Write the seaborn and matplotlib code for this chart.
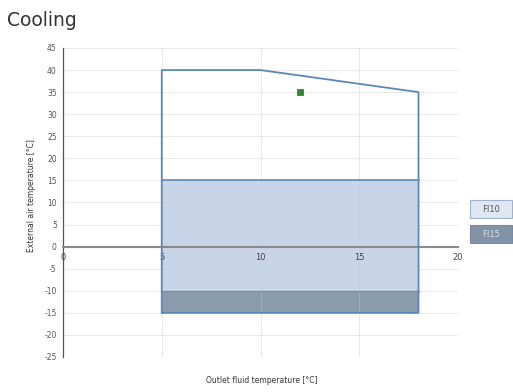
import matplotlib
matplotlib.use("Agg")
import matplotlib.pyplot as plt
import seaborn as sns
import pandas as pd
from matplotlib.patches import Rectangle

sns.set_style("white")
plt.rcParams['font.family'] = ['DejaVu Sans']
plt.rcParams['axes.unicode_minus'] = False

# Operating envelope outline (outlet fluid temp, external air temp)
outline_x = [5, 5, 10, 18, 18, 5]
outline_y = [-15, 40, 40, 35, -15, -15]

# Model regions
fi10_x = [5, 18]
fi10_low, fi10_high = -15, 15
fi15_x = [5, 18]
fi15_low, fi15_high = -15, -10

# Current operating point
point_x = [12]
point_y = [35]

legend_labels = ["FI10", "FI15"]
x_ticks = [0, 5, 10, 15, 20]
y_ticks = list(range(-25, 50, 5))

fig = plt.figure(figsize=(5.13, 3.92), dpi=100)
ax = fig.add_axes([0.1228, 0.0893, 0.770, 0.7883])

light_fill = "#c8d5e9"
dark_fill = "#8b9bae"
edge = "#5a88b8"

ax.fill_between(fi10_x, fi10_low, fi10_high, color=light_fill, zorder=1, linewidth=0)
ax.fill_between(fi15_x, fi15_low, fi15_high, color=dark_fill, zorder=1.2, linewidth=0)
ax.plot([fi10_x[0], fi10_x[1]], [fi10_high, fi10_high], color=edge, lw=1.2, zorder=3)
ax.plot([fi15_x[0], fi15_x[1]], [fi15_high, fi15_high], color="#7d8ea2", lw=1.0, zorder=3)

env = pd.DataFrame({"x": outline_x, "y": outline_y, "i": range(len(outline_x))})
sns.lineplot(data=env, x="x", y="y", sort=False, color=edge, lw=1.3, ax=ax, zorder=4,
             estimator=None)

pts = pd.DataFrame({"x": point_x, "y": point_y})
sns.scatterplot(data=pts, x="x", y="y", marker="s", s=22, color="#2e8b2e",
                edgecolor="#2a6e2a", linewidth=0.5, ax=ax, zorder=5)

for s in ["top", "right"]:
    ax.spines[s].set_visible(False)
ax.spines["left"].set_color("#555555")
ax.spines["left"].set_linewidth(0.9)
ax.spines["bottom"].set_position(("data", 0))
ax.spines["bottom"].set_color("#8a8a8a")
ax.spines["bottom"].set_linewidth(1.5)

ax.set_xlim(0, 20)
ax.set_ylim(-25, 45)
ax.set_xticks(x_ticks)
ax.set_yticks(y_ticks)
ax.tick_params(axis="x", labelsize=6, labelcolor="#444444")
ax.tick_params(axis="y", labelsize=5.5, labelcolor="#555555")
ax.tick_params(axis="both", length=3, width=0.7, color="#555555", pad=1.5)
ax.grid(True, color="#c8c8c8", lw=0.7, alpha=0.4)
ax.set_axisbelow(False)
ax.xaxis.set_zorder(2)
ax.yaxis.set_zorder(2)

ax.set_xlabel("")
ax.set_ylabel("")
fig.text(0.51, 0.03, "Outlet fluid temperature [°C]", ha="center", va="center",
         fontsize=5.5, color="#333333")
fig.text(0.062, 0.5, "External air temperature [°C]", ha="center", va="center",
         rotation=90, fontsize=5.5, color="#333333")
fig.text(0.014, 0.948, "Cooling", ha="left", va="center", fontsize=13.5, color="#333333")

# Legend boxes on the right
W, H = 513, 392
boxes = [(470, 200, "#dfe7f3", "#9fb3cf", "#555555"), (470, 225, "#8393a7", "#7a8aa0", "#d8dde5")]
for (x0, y0, fc, ec, tc), lab in zip(boxes, legend_labels):
    fig.patches.append(Rectangle((x0 / W, 1 - (y0 + 18) / H), 42 / W, 18 / H,
                                 transform=fig.transFigure, facecolor=fc, edgecolor=ec,
                                 lw=0.8))
    fig.text((x0 + 21) / W, 1 - (y0 + 9) / H, lab, ha="center", va="center",
             fontsize=6, color=tc)

fig.savefig("out.png", dpi=100)
